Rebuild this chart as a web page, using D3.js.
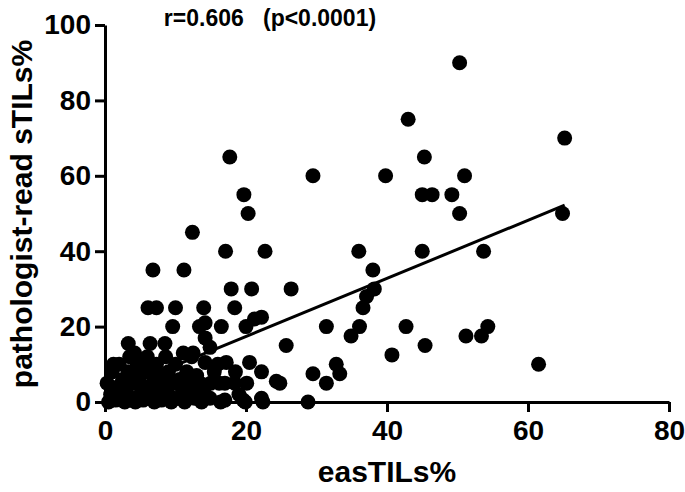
<!DOCTYPE html>
<html>
<head>
<meta charset="utf-8">
<script src="https://cdn.jsdelivr.net/npm/d3@7"></script>
<style>
  body { margin: 0; background: #fff; }
  text { font-family: "Liberation Sans", Arial, sans-serif; font-weight: bold; fill: #000; }
</style>
</head>
<body>
<script>
// easTILs% (x) vs pathologist-read sTILs% (y)
var easTILs = [
  50.3, 43, 65.2, 17.7, 45.3, 29.5, 39.8, 51, 19.7, 45, 46.4, 49.2, 20.3, 50.3, 64.9,
  12.4, 17.1, 22.7, 36, 45, 53.7, 6.8, 11.2, 38, 17.9, 20.8, 26.4, 38.2, 37.1, 36.6,
  6.1, 7.3, 10, 14, 18.4, 9.6, 13.4, 14.2, 16.5, 20, 21.2, 22.2, 31.4, 36.1, 42.7, 54.3,
  34.9, 51.2, 53.4, 25.7, 45.4, 14.2, 14.9, 3.3, 6.4, 8.5, 40.7, 11.1, 12.5, 4.2,
  32.8, 33.3, 29.5, 31.4, 24.8, 28.8, 61.5, 1.2, 6.1, 14.2, 17.2, 20.5, 22.2, 24.3,
  17, 18.4, 20.1, 17, 19.6, 22.2, 13.7, 16.4, 19.9, 22.4, 12.7, 14.9,
  0.3, 0.5, 0.8, 1, 1.5, 1.8, 2, 2.2, 2.5, 2.8, 3, 3.3, 3.5, 3.8, 4, 4.3, 4.6, 5, 5,
  5.4, 5.8, 6, 6.2, 6.5, 6.8, 7, 7.3, 7.5, 7.8, 8, 8.3, 8.6, 9, 9, 9.4, 9.7, 10, 10.3,
  10.6, 11, 11.3, 11.6, 12, 12.3, 12.6, 13, 13.5, 14, 15, 15.5, 16, 16.2, 18.5, 19
];
var sTILs = [
  90, 75, 70, 65, 65, 60, 60, 60, 55, 55, 55, 55, 50, 50, 50,
  45, 40, 40, 40, 40, 40, 35, 35, 35, 30, 30, 30, 30, 28, 25,
  25, 25, 25, 25, 25, 20, 20, 21, 20, 20, 22, 22.5, 20, 20, 20, 20,
  17.5, 17.5, 17.5, 15, 15, 17, 14.5, 15.5, 15.5, 15.5, 12.5, 13, 13, 13,
  10, 7.5, 7.5, 5, 5, 0, 10, 10, 10.5, 10.5, 10.5, 10.5, 8, 5.5,
  5, 5, 5, 0.5, 0.5, 1, 0, 0, 0, 0, 1, 1,
  5, 0, 2, 8, 0.5, 4, 10, 1, 6, 0, 3, 8, 12, 1, 5, 0, 10, 2, 7,
  0.5, 4, 12, 8, 1, 5, 0, 10, 3, 7, 0.5, 5, 12, 2, 8, 0, 5, 10, 1,
  6, 3, 0, 8, 5, 12, 2, 7, 5, 3, 5, 8, 10, 5, 8, 2
];
var xTicks = [0, 20, 40, 60, 80];
var yTicks = [0, 20, 40, 60, 80, 100];
var fitLine = [[0, 2.0], [65.2, 52.2]];  // linear fit drawn across the data range
var titleText = "r=0.606   (p<0.0001)";

var width = 685, height = 492;
var x = d3.scaleLinear().domain([0, 80]).range([105, 669]);
var y = d3.scaleLinear().domain([0, 100]).range([402, 25]);

var svg = d3.select("body").append("svg")
  .attr("width", width)
  .attr("height", height);

// points
svg.append("g")
  .selectAll("circle")
  .data(easTILs)
  .enter()
  .append("circle")
  .attr("cx", function (d) { return x(d); })
  .attr("cy", function (d, i) { return y(sTILs[i]); })
  .attr("r", 7.5)
  .attr("fill", "#000");

// regression line
svg.append("path")
  .datum(fitLine)
  .attr("d", d3.line().x(function (d) { return x(d[0]); }).y(function (d) { return y(d[1]); }))
  .attr("stroke", "#000")
  .attr("stroke-width", 3)
  .attr("fill", "none");

// axes
var xAxis = svg.append("g")
  .attr("transform", "translate(0," + y(0) + ")")
  .call(d3.axisBottom(x).tickValues(xTicks).tickSize(10).tickPadding(8).tickSizeOuter(0));
var yAxis = svg.append("g")
  .attr("transform", "translate(" + x(0) + ",0)")
  .call(d3.axisLeft(y).tickValues(yTicks).tickSize(10).tickPadding(4).tickSizeOuter(0));

[xAxis, yAxis].forEach(function (ax) {
  ax.select(".domain").attr("stroke", "#000").attr("stroke-width", 3);
  ax.selectAll(".tick line").attr("stroke", "#000").attr("stroke-width", 3);
  ax.selectAll(".tick text")
    .style("font-family", "'Liberation Sans', Arial, sans-serif")
    .style("font-weight", "bold")
    .style("font-size", "28px")
    .attr("fill", "#000");
});

// titles
svg.append("text")
  .attr("x", 270)
  .attr("y", 26)
  .attr("text-anchor", "middle")
  .style("font-size", "23px")
  .style("white-space", "pre")
  .text(titleText);

svg.append("text")
  .attr("x", 387)
  .attr("y", 482)
  .attr("text-anchor", "middle")
  .style("font-size", "30px")
  .text("easTILs%");

svg.append("text")
  .attr("transform", "translate(32,214) rotate(-90)")
  .attr("text-anchor", "middle")
  .style("font-size", "30px")
  .text("pathologist-read sTILs%");
</script>
</body>
</html>
